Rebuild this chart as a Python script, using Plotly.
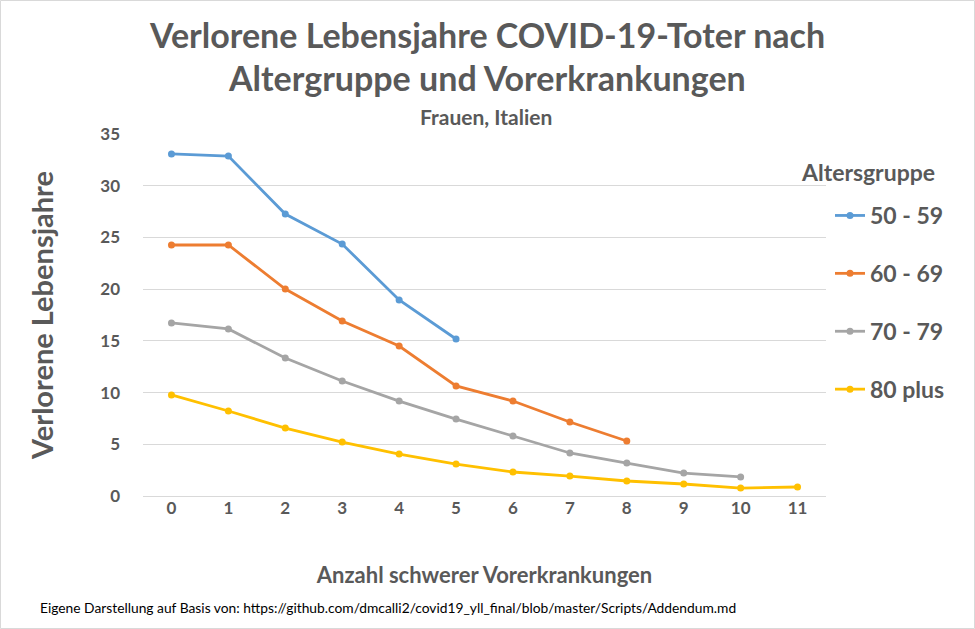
import plotly.graph_objects as go

x_vals = list(range(12))
tick_labels = [str(i) for i in x_vals]
groups = ["50 - 59", "60 - 69", "70 - 79", "80 plus"]
colors = ["#5B9BD5", "#ED7D31", "#A5A5A5", "#FFC000"]
v_50_59 = [33.07, 32.87, 27.26, 24.36, 18.95, 15.18]
v_60_69 = [24.27, 24.27, 20.01, 16.92, 14.50, 10.64, 9.18, 7.15, 5.32]
v_70_79 = [16.73, 16.15, 13.34, 11.12, 9.18, 7.44, 5.80, 4.16, 3.19, 2.22, 1.84]
v_80_plus = [9.77, 8.22, 6.57, 5.22, 4.06, 3.09, 2.32, 1.93, 1.45, 1.16, 0.77, 0.87]
series = [v_50_59, v_60_69, v_70_79, v_80_plus]
y_ticks = [0, 5, 10, 15, 20, 25, 30, 35]

FONT = "Lato"
GRAY = "#595959"
W, H = 975, 629
ML, MR, MT, MB = 143, 149, 134, 133
plot_w = W - ML - MR
plot_h = H - MT - MB

def px_to_paper(px, py):
    return (px - ML) / plot_w, (H - MB - py) / plot_h

fig = go.Figure()
for name, vals, col in zip(groups, series, colors):
    fig.add_trace(go.Scatter(
        x=x_vals[:len(vals)], y=vals, name="<b>" + name + "</b>", mode="lines+markers",
        line=dict(color=col, width=2.8), marker=dict(color=col, size=7),
        legendgroup=name,
    ))

lx, ly = px_to_paper(830, 194)
fig.update_layout(
    width=W, height=H,
    paper_bgcolor="white", plot_bgcolor="white",
    margin=dict(l=ML, r=MR, t=MT, b=MB, autoexpand=False),
    font=dict(family=FONT, color=GRAY),
    showlegend=True,
    legend=dict(
        font=dict(size=23, color=GRAY, family=FONT),
        x=lx, xanchor="left", y=ly, yanchor="top",
        tracegroupgap=25, itemwidth=30,
        bgcolor="rgba(0,0,0,0)",
    ),
    xaxis=dict(
        range=[-0.5, 11.5], tickmode="array", tickvals=x_vals, ticktext=["<b>%s</b>" % t for t in tick_labels],
        showgrid=False, zeroline=False, showline=False, ticks="",
        tickfont=dict(size=17, color=GRAY),
        title=dict(text="<b>Anzahl schwerer Vorerkrankungen</b>", font=dict(size=22, color=GRAY), standoff=50),
    ),
    yaxis=dict(
        range=[0, 35], tickmode="array", tickvals=y_ticks,
        ticktext=["<b>%d</b>" % v for v in y_ticks],
        showgrid=True, gridcolor="#D9D9D9", gridwidth=1,
        zeroline=True, zerolinecolor="#D9D9D9", zerolinewidth=1, showline=False, ticks="",
        tickfont=dict(size=17, color=GRAY), ticklabelstandoff=22,
        title=dict(text="<b>Verlorene Lebensjahre</b>", font=dict(size=29, color=GRAY), standoff=38),
    ),
)

texts = [
    ("<b>Verlorene Lebensjahre COVID-19-Toter nach</b>", 487, 34, 34, GRAY, "center"),
    ("<b>Altergruppe und Vorerkrankungen</b>", 487, 77, 34, GRAY, "center"),
    ("<b>Frauen, Italien</b>", 486, 116, 21, GRAY, "center"),
    ("<b>Altersgruppe</b>", 868, 172, 23, GRAY, "center"),
    ("Eigene Darstellung auf Basis von: https://github.com/dmcalli2/covid19_yll_final/blob/master/Scripts/Addendum.md",
     38, 607, 13.8, "#000000", "left"),
]
for t, px, py, sz, col, anchor in texts:
    ax, ay = px_to_paper(px, py)
    fig.add_annotation(text=t, x=ax, y=ay, xref="paper", yref="paper", showarrow=False,
                       xanchor=anchor, yanchor="middle", font=dict(size=sz, color=col, family=FONT))

x0, y0 = px_to_paper(0.5, 628.5)
x1, y1 = px_to_paper(974.5, 0.5)
fig.add_shape(type="rect", xref="paper", yref="paper", x0=x0, x1=x1, y0=y0, y1=y1,
              line=dict(color="#D9D9D9", width=1), layer="below")

fig.write_html("out.html", config={"displayModeBar": False},
               post_script="document.body.style.margin='0';document.body.style.padding='0';")
